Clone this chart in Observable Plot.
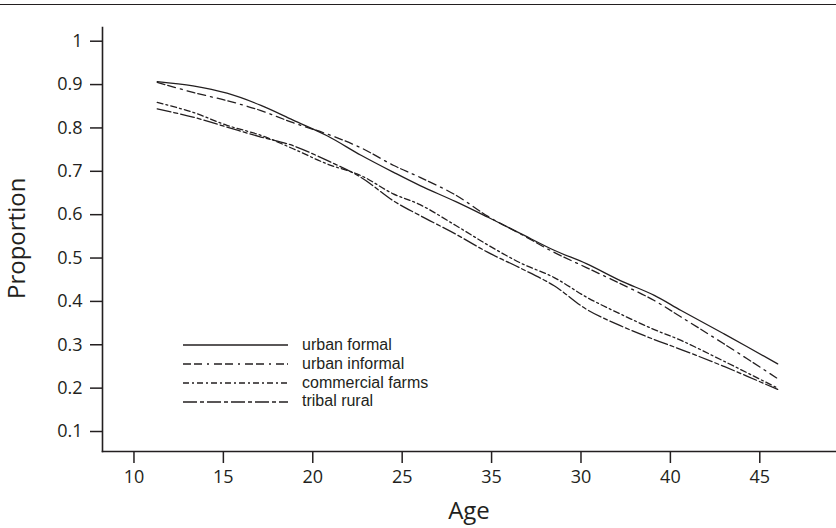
<!DOCTYPE html>
<html><head><meta charset="utf-8">
<script src="https://cdn.jsdelivr.net/npm/d3@7"></script>
<script src="https://cdn.jsdelivr.net/npm/@observablehq/plot@0.6"></script>
<style>
body{margin:0;background:#fff;}
#wrap{position:relative;width:836px;height:528px;font-family:"Open Sans",sans-serif;color:#231f20;overflow:hidden;}
#topline{position:absolute;left:0;top:4px;width:836px;height:0;border-top:1.6px solid #231f20;}
#legend{position:absolute;left:183px;top:335.8px;}
.row{display:flex;align-items:center;height:18.9px;}
.row svg{display:block;margin-right:14px;}
.row span{font-family:"Liberation Sans",Arial,sans-serif;font-size:16px;line-height:18.9px;white-space:nowrap;}
#xlab{position:absolute;left:0;width:836px;top:493px;padding-left:102px;box-sizing:border-box;text-align:center;font-size:24px;}
#ylab{position:absolute;left:-44px;top:225px;width:120px;text-align:center;font-size:24px;transform:rotate(-90deg);transform-origin:center;line-height:28px;}
svg g[aria-label="y-axis tick"] path, svg g[aria-label="x-axis tick"] path{stroke-width:1.5px;}
</style></head>
<body>
<div id="wrap">
<div id="chart"></div>
<div id="topline"></div>
<div id="legend"></div>
<div id="xlab">Age</div>
<div id="ylab">Proportion</div>
</div>
<script>
const ages = [11.3,13.3,15.2,17.1,18.9,20.8,22.7,24.5,26.0,28.0,29.8,31.6,33.5,35.3,37.2,39.1,40.6,43.0,46.0];
const urbanFormal    = [0.907,0.897,0.880,0.852,0.818,0.782,0.737,0.698,0.667,0.630,0.594,0.557,0.518,0.487,0.448,0.414,0.379,0.325,0.256];
const urbanInformal  = [0.905,0.882,0.863,0.840,0.812,0.786,0.754,0.714,0.686,0.645,0.596,0.556,0.513,0.478,0.441,0.402,0.364,0.302,0.222];
const commercialFarms= [0.859,0.836,0.806,0.783,0.752,0.717,0.690,0.648,0.623,0.575,0.530,0.489,0.455,0.410,0.371,0.335,0.310,0.262,0.200];
const tribalRural    = [0.844,0.825,0.802,0.779,0.759,0.725,0.686,0.632,0.598,0.555,0.513,0.477,0.436,0.382,0.344,0.312,0.289,0.250,0.197];
const seriesNames = ["urban formal","urban informal","commercial farms","tribal rural"];
const xTicks = [10,15,20,25,30,35,40,45];
const xTickLabels = ["10","15","20","25","35","30","40","45"];
const yTicks = [0.1,0.2,0.3,0.4,0.5,0.6,0.7,0.8,0.9,1];

const dashes = ["none","8,3,8,5,2,5","6,3,2,3","14,3,4,3"];
const ink = "#231f20";
const seriesValues = [urbanFormal, urbanInformal, commercialFarms, tribalRural];

const lineMarks = seriesValues.map((vals, k) =>
  Plot.line(ages.map((a, i) => ({age: a, value: vals[i], series: seriesNames[k]})), {
    x: "age", y: "value", stroke: ink, strokeWidth: 1.3,
    strokeDasharray: dashes[k] === "none" ? undefined : dashes[k],
    curve: "catmull-rom"
  })
);

const chart = Plot.plot({
  width: 836, height: 528,
  marginLeft: 102, marginRight: 0, marginTop: 27, marginBottom: 77,
  style: {fontFamily: "'Open Sans', sans-serif", fontSize: "18px", color: ink, background: "transparent"},
  x: {domain: [8.24, 49.29], ticks: xTicks, tickFormat: d => xTickLabels[xTicks.indexOf(d)], tickSize: 12, tickPadding: 7, label: null},
  y: {domain: [0.0539, 1.0316], ticks: yTicks, tickFormat: d => String(+d.toFixed(1)), tickSize: 12, tickPadding: 8, label: null},
  marks: [
    Plot.frame({anchor: "left", stroke: ink, strokeWidth: 1.6}),
    Plot.frame({anchor: "bottom", stroke: ink, strokeWidth: 1.6}),
    ...lineMarks
  ]
});
document.getElementById("chart").appendChild(chart);

const legend = document.getElementById("legend");
seriesNames.forEach((name, k) => {
  const row = document.createElement("div");
  row.className = "row";
  const da = dashes[k] === "none" ? "" : `stroke-dasharray="${dashes[k]}"`;
  row.innerHTML = `<svg width="105" height="6"><line x1="0" y1="3" x2="105" y2="3" stroke="${ink}" stroke-width="1.5" ${da}/></svg><span>${name}</span>`;
  legend.appendChild(row);
});
</script>
</body></html>
